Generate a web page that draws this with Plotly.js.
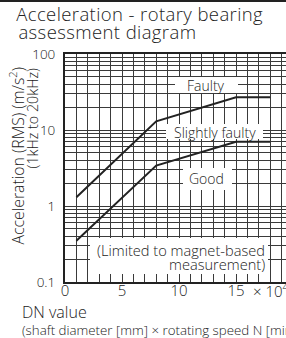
<!DOCTYPE html>
<html><head><meta charset="utf-8">
<script src="https://cdn.plot.ly/plotly-3.0.1.min.js"></script>
<style>
html,body{margin:0;padding:0;overflow:hidden;background:#fff;width:286px;height:338px;}
#chart{width:320px;height:338px;}
.annotation[data-index="0"] text,.annotation[data-index="1"] text{letter-spacing:0.4px;}
</style></head>
<body><div id="chart"></div>
<script>
// ---- data ----
const dnValues = [1, 8, 15, 18];                 // DN value (x10^4)
const faultyBoundary = [1.3, 13, 27, 27];        // m/s^2, Faulty / Slightly faulty
const goodBoundary = [0.35, 3.4, 7, 7];          // m/s^2, Slightly faulty / Good
const xGridVals = [0,1,2,3,4,5,6,7,8,9,10,11,12,13,14,15,16,17,18,19,20];
const xTickText = ['0','','','','','5','','','','','10','','','','','15','','','','',''];
const yGridVals = [0.1,0.2,0.3,0.4,0.5,0.6,0.7,0.8,0.9,1,2,3,4,5,6,7,8,9,10,20,30,40,50,60,70,80,90,100];
const yTickText = ['0.1','','','','','','','','','1','','','','','','','','','10','','','','','','','','','100'];
const titleLines = ['Acceleration - rotary bearing', 'assessment diagram'];
const yTitleLines = ['Acceleration (RMS) (m/s<sup>2</sup>)', '(1kHz to 20kHz)'];
const xTitleLines = ['DN value', '(shaft diameter [mm] × rotating speed N [min<sup>-1</sup>])'];
const xUnitText = '× 10<sup>4</sup>';
const zoneLabels = ['Faulty', 'Slightly faulty', 'Good'];
const limitLines = ['(Limited to magnet-based', 'measurement)'];

// ---- geometry helpers (pixel -> paper) ----
const L = 65, T = 54, B = 282, PW = 228, PH = B - T;
const W = 320, H = 338;
const px = x => (x - L) / PW;
const py = y => (B - y) / PH;

const FONT = '"Open Sans", "Liberation Sans", sans-serif';
const ink = '#222';
const fnt = (s, c) => ({family: FONT, size: s, color: c || ink, weight: 300});

const traces = [
  {x: dnValues, y: faultyBoundary, mode: 'lines', line: {color: ink, width: 2}, hoverinfo: 'skip'},
  {x: dnValues, y: goodBoundary, mode: 'lines', line: {color: ink, width: 2}, hoverinfo: 'skip'}
];

const boxes = [
  [175, 77, 238, 93],
  [166, 124, 263, 139],
  [183, 168, 232, 190],
  [90, 238, 268, 274]
];
const shapes = boxes.map(b => ({type: 'rect', xref: 'paper', yref: 'paper',
  x0: px(b[0]), x1: px(b[2]), y0: py(b[3]), y1: py(b[1]),
  fillcolor: '#fff', line: {width: 0}, layer: 'above'}));
shapes.push({type: 'rect', xref: 'paper', yref: 'paper', x0: px(-5), x1: px(W + 5),
  y0: py(2), y1: py(-2), fillcolor: '#222', line: {width: 0}, layer: 'above'});

const ann = (text, x, y, xa, ya, size, extra) => Object.assign({
  text, xref: 'paper', yref: 'paper', x: px(x), y: py(y), xanchor: xa, yanchor: ya,
  showarrow: false, font: fnt(size), borderpad: 0}, extra || {});

const annotations = [
  ann(titleLines[0], 21, 14, 'left', 'middle', 18.5),
  ann(titleLines[1], 21, 31.5, 'left', 'middle', 18.5),
  ann(yTitleLines[0], 17, 67, 'center', 'top', 15.8, {textangle: -90}),
  ann(yTitleLines[1], 32, 67, 'center', 'top', 14.3, {textangle: -90}),
  ann(xTitleLines[0], 21, 311.5, 'left', 'middle', 16),
  ann(xTitleLines[1], 21, 328.5, 'left', 'middle', 13.3),
  ann(xUnitText, 252, 290, 'left', 'middle', 15),
  ann(zoneLabels[0], 206, 85, 'center', 'middle', 14),
  ann(zoneLabels[1], 215, 132, 'center', 'middle', 14),
  ann(zoneLabels[2], 206, 178, 'center', 'middle', 14),
  ann(limitLines[0], 266, 250, 'right', 'middle', 14.6),
  ann(limitLines[1], 266, 263.5, 'right', 'middle', 14.6)
];

const layout = {
  width: W, height: H,
  margin: {l: L, r: W - L - PW, t: T, b: H - B, pad: 0},
  paper_bgcolor: '#fff', plot_bgcolor: '#fff',
  showlegend: false,
  xaxis: {range: [0, 20], tickmode: 'array', tickvals: xGridVals, ticktext: xTickText,
    showgrid: true, gridcolor: '#3a3a3a', gridwidth: 1, zeroline: false,
    showline: true, mirror: true, linecolor: ink, linewidth: 2, ticks: '',
    ticklabelstandoff: -6, tickfont: fnt(15), fixedrange: true},
  yaxis: {type: 'log', range: [-1, 2], tickmode: 'array', tickvals: yGridVals, ticktext: yTickText,
    showgrid: true, gridcolor: '#3a3a3a', gridwidth: 1, zeroline: false,
    showline: true, mirror: true, linecolor: ink, linewidth: 2, ticks: '',
    ticklabelstandoff: 5, tickfont: fnt(13.5), fixedrange: true},
  shapes, annotations
};

Plotly.newPlot('chart', traces, layout, {staticPlot: true, displayModeBar: false});
</script></body></html>
